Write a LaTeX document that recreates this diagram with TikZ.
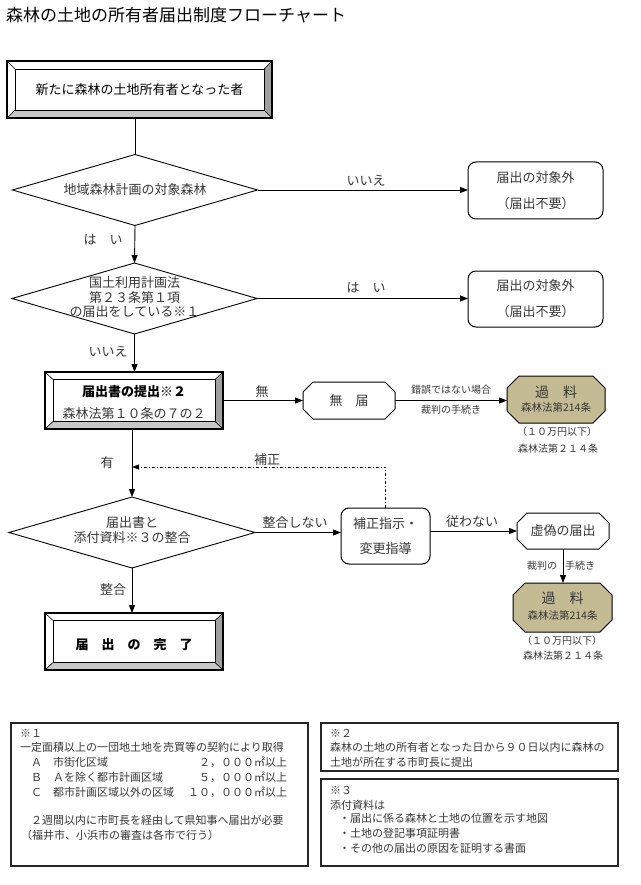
\documentclass[tikz,border=0pt]{standalone}
\usepackage{fontspec}
\setmainfont{Noto Sans CJK JP}
\usetikzlibrary{shapes.geometric,arrows.meta,calc}
\definecolor{bevR}{RGB}{160,160,160}
\definecolor{bevB}{RGB}{200,200,200}
\definecolor{kafill}{RGB}{196,187,149}
\definecolor{txt}{RGB}{55,55,55}
\newcommand\bevelbox[3]{%
  \fill[bevR] (#1.north east) -- (#1.south east) -- ($(#1.south east)+(-#2,-#3)$) -- ($(#1.north east)+(-#2,#3)$) -- cycle;
  \fill[bevB] (#1.south west) -- (#1.south east) -- ($(#1.south east)+(-#2,-#3)$) -- ($(#1.south west)+(#2,-#3)$) -- cycle;
  \draw[line width=1.1pt] (#1.north west) rectangle (#1.south east);
  \draw[line width=0.9pt] ($(#1.north west)+(#2,#3)$) rectangle ($(#1.south east)+(-#2,-#3)$);
  \draw[line width=0.6pt] (#1.north west) -- ++(#2,#3) (#1.north east) -- ++(-#2,#3)
        (#1.south west) -- ++(#2,-#3) (#1.south east) -- ++(-#2,-#3);
}
\newcommand\octshape[3]{% name, chamfer, fill colour
  \draw[line width=1pt, fill=#3] ($(#1.north west)+(#2,0)$) -- ($(#1.north east)+(-#2,0)$)
    -- ($(#1.north east)+(0,#2)$) -- ($(#1.south east)+(0,-#2)$)
    -- ($(#1.south east)+(-#2,0)$) -- ($(#1.south west)+(#2,0)$)
    -- ($(#1.south west)+(0,-#2)$) -- ($(#1.north west)+(0,#2)$) -- cycle;
}
\begin{document}
\begin{tikzpicture}[x=1pt,y=-1pt,
  t/.style={inner sep=0, outer sep=0, text=txt, font=\fontsize{13}{15}\selectfont},
  ts/.style={inner sep=0, outer sep=0, text=txt, font=\fontsize{10}{12}\selectfont},
  tn/.style={inner sep=0, outer sep=0, text=txt, font=\fontsize{11}{13}\selectfont, anchor=west},
  ln/.style={line width=0.9pt},
  arr/.style={ln, -{Triangle[length=8pt,width=6pt]}},
  dd/.style={line width=0.9pt, dash pattern=on 3pt off 2pt on 1pt off 2pt},
  dia/.style={diamond, draw, ln, minimum height=71pt, inner sep=0, outer sep=0},
  bev/.style={rectangle, inner sep=0, outer sep=0},
  rbox/.style={draw, line width=1pt, rounded corners=8pt, align=center, text=txt,
     font=\fontsize{13}{26}\selectfont, inner sep=0, outer sep=0},
  oct/.style={rectangle, inner sep=0, outer sep=0},
  notebox/.style={draw=black!85, line width=1.1pt, anchor=north west, inner sep=0, outer sep=0}
]
\useasboundingbox[fill=white] (0,0) rectangle (640,885);

% title
\node[inner sep=0, anchor=west, font=\fontsize{17}{19}\selectfont] (title) at (6,15) {森林の土地の所有者届出制度フローチャート};

% top bevel box
\node[bev, minimum width=265pt, minimum height=57pt] (b1) at (139.5,89.5) {};
\bevelbox{b1}{8}{8}
\node[inner sep=0, font=\fontsize{13}{15}\selectfont] (b1t) at (b1.center) {新たに森林の土地所有者となった者};

% diamond 1
\node[dia, minimum width=245pt] (d1) at (135,190) {};
\node[t] (d1t) at (d1.center) {地域森林計画の対象森林};
\draw[ln] (d1.north) -- (d1.north |- b1.south);

% right box 1
\node[rbox, minimum width=135pt, minimum height=57pt] (r1) at (535.5,190.5) {届出の対象外\\（届出不要）};
\draw[arr] (d1.east) -- (d1.east -| r1.west);
\node[t] (l1) at (366,181) {いいえ};

% diamond 2
\node[dia, minimum width=245pt] (d2) at (134.5,298.5) {};
\node[t, align=center, font=\fontsize{13}{14.5}\selectfont] (d2t) at (134.5,297.5) {国土利用計画法\\第２３条第１項\\の届出をしている※１};
\draw[arr] (d1.south) -- (d2.north);
\node[t] (l2) at (103,240) {は　い};

% right box 2
\node[rbox, minimum width=135pt, minimum height=56pt] (r2) at (535.5,299) {届出の対象外\\（届出不要）};
\draw[arr] (d2.east) -- (d2.east -| r2.west);
\node[t] (l3) at (366,288) {は　い};

% bevel box 2
\node[bev, minimum width=178pt, minimum height=57pt] (b2) at (134,400.5) {};
\bevelbox{b2}{8}{7.5}
\node[inner sep=0, font=\bfseries\fontsize{13}{15}\selectfont] (b2t1) at (134,392) {届出書の提出※２};
\node[t] (b2t2) at (134,414) {森林法第１０条の７の２};
\draw[arr] (d2.south) -- (d2.south |- b2.north);
\node[t] (l4) at (108,352) {いいえ};

% 無届
\node[oct, minimum width=92pt, minimum height=37pt] (n1) at (349,400.5) {};
\octshape{n1}{10}{white}
\node[t] (n1t) at (n1.center) {無　届};
\draw[arr] (b2.east) -- (b2.east -| n1.west);
\node[t] (l5) at (262,392) {無};

% 過料 1
\node[oct, minimum width=98pt, minimum height=47pt] (k1) at (556,399.5) {};
\octshape{k1}{12}{kafill}
\node[t, font=\fontsize{14}{16}\selectfont] (k1t1) at (556,392) {過　料};
\node[t, font=\fontsize{10.5}{12}\selectfont] (k1t2) at (556,407.5) {森林法第214条};
\draw[arr] (n1.east) -- (n1.east -| k1.west);
\node[ts] (l6) at (451,390) {錯誤ではない場合};
\node[ts] (l7) at (451,410) {裁判の手続き};
\node[ts] (k1n1) at (557,432) {（１０万円以下）};
\node[ts] (k1n2) at (558,449) {森林法第２１４条};

% diamond 3
\node[dia, minimum width=246pt] (d3) at (132,532.5) {};
\node[t, align=center, font=\fontsize{13}{15}\selectfont] (d3t) at (132,530.5) {届出書と\\添付資料※３の整合};
\draw[arr] (d3.north |- b2.south) -- (d3.north);
\node[t] (l8) at (107,463) {有};

% 補正指示
\node[rbox, minimum width=89pt, minimum height=56pt, font=\fontsize{13}{25}\selectfont] (h1) at (385.5,536) {補正指示・\\変更指導};
\draw[arr] (d3.east) -- (d3.east -| h1.west);
\node[t] (l9) at (295,523) {整合しない};

% 補正 dash-dot
\coordinate (c1) at (132,467);
\draw[dd, -{Triangle[length=7pt,width=5pt]}] (h1.north) |- (c1);
\node[t] (l10) at (267,460) {補正};

% 虚偽の届出
\node[oct, minimum width=92pt, minimum height=36pt] (g1) at (563,531) {};
\octshape{g1}{10}{white}
\node[t] (g1t) at (g1.center) {虚偽の届出};
\draw[arr] (h1.east |- g1.west) -- (g1.west);
\node[t] (l11) at (472,522) {従わない};

% 過料 2
\node[oct, minimum width=99pt, minimum height=49pt] (k2) at (562.5,607.5) {};
\octshape{k2}{12}{kafill}
\node[t, font=\fontsize{14}{16}\selectfont] (k2t1) at (562.5,598) {過　料};
\node[t, font=\fontsize{10.5}{12}\selectfont] (k2t2) at (562.5,615) {森林法第214条};
\draw[arr] (g1.south) -- (g1.south |- k2.north);
\node[ts] (l12) at (542,566) {裁判の};
\node[ts] (l13) at (580,566) {手続き};
\node[ts] (k2n1) at (562,641) {（１０万円以下）};
\node[ts] (k2n2) at (563,656) {森林法第２１４条};

% final bevel box
\node[bev, minimum width=178pt, minimum height=57pt] (b3) at (134,641.5) {};
\bevelbox{b3}{8}{7.5}
\node[inner sep=0, font=\bfseries\fontsize{13}{15}\selectfont] (b3t) at (134,645) {届　出　の　完　了};
\draw[arr] (d3.south) -- (d3.south |- b3.north);
\node[t] (l14) at (113,590) {整合};

% notes
\node[notebox, minimum width=297pt, minimum height=143pt] (nb1) at (11,723) {};
\node[tn] (a1) at (20,733) {※１};
\node[tn] (a2) at (20,747) {一定面積以上の一団地土地を売買等の契約により取得};
\node[tn] (a3) at (31,762) {Ａ};
\node[tn] (a4) at (53,762) {市街化区域};
\node[tn, anchor=east] (a5) at (287,762) {２，０００㎡以上};
\node[tn] (a6) at (31,777) {Ｂ};
\node[tn] (a7) at (53,777) {Ａを除く都市計画区域};
\node[tn, anchor=east] (a8) at (287,777) {５，０００㎡以上};
\node[tn] (a9) at (31,792) {Ｃ};
\node[tn] (a10) at (53,792) {都市計画区域以外の区域};
\node[tn, anchor=east] (a11) at (287,792) {１０，０００㎡以上};
\node[tn] (a12) at (31,820) {２週間以内に市町長を経由して県知事へ届出が必要};
\node[tn] (a13) at (21,835) {（福井市、小浜市の審査は各市で行う）};

\node[notebox, minimum width=297pt, minimum height=48pt] (nb2) at (321,723) {};
\node[tn] (n21) at (330,733) {※２};
\node[tn] (n22) at (330,747) {森林の土地の所有者となった日から９０日以内に森林の};
\node[tn] (n23) at (330,762) {土地が所在する市町長に提出};

\node[notebox, minimum width=297pt, minimum height=87pt] (nb3) at (321,779) {};
\node[tn] (n31) at (330,790) {※３};
\node[tn] (n32) at (330,805) {添付資料は};
\node[tn] (n33) at (339,818) {・届出に係る森林と土地の位置を示す地図};
\node[tn] (n34) at (339,833) {・土地の登記事項証明書};
\node[tn] (n35) at (339,848) {・その他の届出の原因を証明する書面};
\end{tikzpicture}
\end{document}
